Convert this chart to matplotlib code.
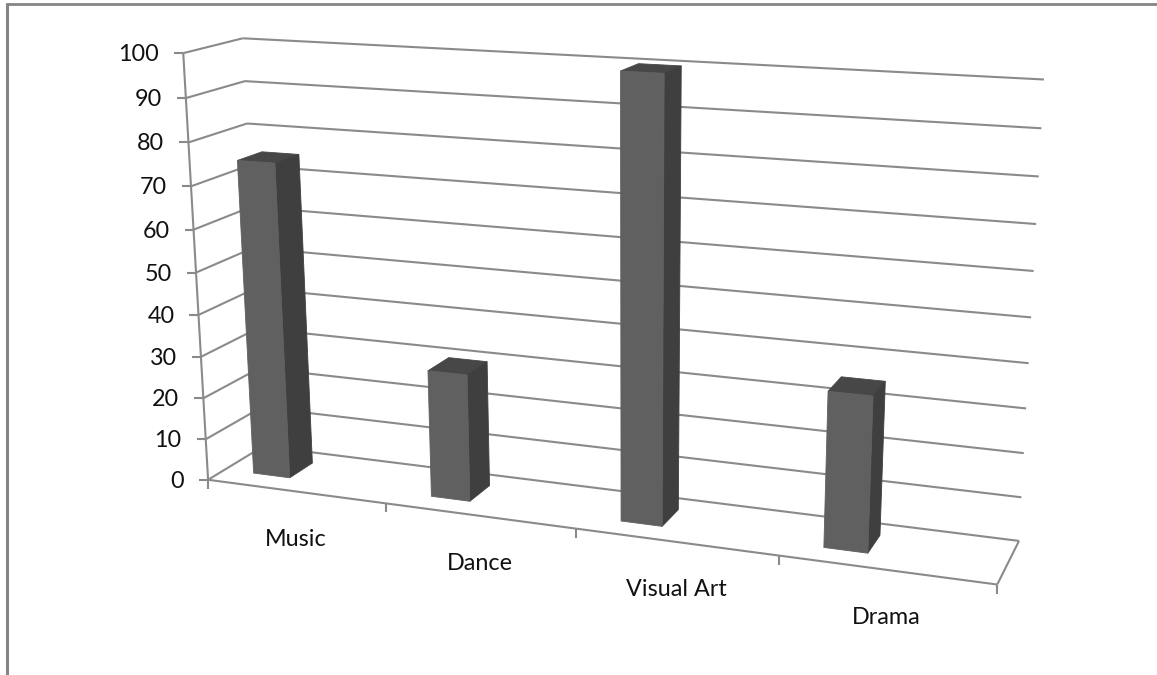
import numpy as np
import matplotlib
matplotlib.use("Agg")
import matplotlib.pyplot as plt
from matplotlib.patches import Polygon

categories = ["Music", "Dance", "Visual Art", "Drama"]
values = [75, 30, 100, 35]
y_ticks = list(range(0, 101, 10))

GRID = "#8a8a8a"
FRONT, SIDE, TOP = "#606060", "#3f3f3f", "#474747"
BAR_SHIFT, BAR_HALF = -0.0575, 0.026
BAR_Z = (0.30, 0.73)

# camera calibration: model (x 0-1, value 0-100, z 0 front-1 back) -> pixels
calib = [((0, 0, 0), (208, 480)), ((0, 100, 0), (184, 53)), ((0, 0, 1), (264, 446)),
         ((0, 100, 1), (242, 38)), ((1, 0, 1), (1019, 541)), ((1, 100, 1), (1044, 80)),
         ((1, 0, 0), (998, 583)), ((.25, 0, 0), (386, 503)), ((.5, 0, 0), (575, 530)),
         ((.75, 0, 0), (779, 556))]
A, b = [], []
for (X, Y, Z), (u, v) in calib:
    Y = Y / 100
    A.append([X, Y, Z, 1, 0, 0, 0, 0, -u * X, -u * Y, -u * Z])
    A.append([0, 0, 0, 0, X, Y, Z, 1, -v * X, -v * Y, -v * Z])
    b += [u, v]
P = np.append(np.linalg.lstsq(np.array(A, float), np.array(b, float), rcond=None)[0], 1).reshape(3, 4)


def proj(x, y, z):
    p = P @ np.array([x, y / 100, z, 1.0])
    return p[0] / p[2], p[1] / p[2]


plt.rcParams["font.family"] = ["Lato", "DejaVu Sans"]
fig = plt.figure(figsize=(11.57, 6.75), dpi=100, facecolor="white")
ax = fig.add_axes([0, 0, 1, 1])
ax.set_xlim(0, 1157)
ax.set_ylim(675, 0)
ax.axis("off")


def seg(a, b, **kw):
    ax.plot([a[0], b[0]], [a[1], b[1]], color=kw.pop("color", GRID), lw=kw.pop("lw", 1.5),
            solid_capstyle="butt", zorder=kw.pop("zorder", 1))


# chart frame
seg((6, 4), (1157, 4), color="#858585", lw=2)
seg((7, 3), (7, 675), color="#858585", lw=2.2)

# walls and grid
for t in y_ticks:
    seg(proj(0, t, 0), proj(0, t, 1))
    seg(proj(0, t, 1), proj(1, t, 1))
    x0, y0 = proj(0, t, 0)
    seg((x0 - 9, y0), (x0, y0))
    ax.text(x0 - 24, y0 + 1.5, str(t), ha="right", va="center", fontsize=16.8, color="#111111")
seg(proj(0, 0, 0), proj(0, 100, 0))
seg(proj(0, 0, 0), proj(1, 0, 0))
seg(proj(1, 0, 0), proj(1, 0, 1))

# category ticks and labels
for i in range(len(categories) + 1):
    x0, y0 = proj(i / 4, 0, 0)
    seg((x0, y0), (x0, y0 + 9))
for i, c in enumerate(categories):
    x0, y0 = proj((i + .5) / 4, 0, 0)
    ax.text(x0, y0 + 48, c, ha="center", va="center", fontsize=16.8, color="#111111")

# bars
for i, val in enumerate(values):
    c = (i + .5) / 4 + BAR_SHIFT
    x0, x1 = c - BAR_HALF, c + BAR_HALF
    z0, z1 = BAR_Z
    faces = [
        (TOP, [(x0, val, z0), (x1, val, z0), (x1, val, z1), (x0, val, z1)]),
        (SIDE, [(x1, 0, z0), (x1, 0, z1), (x1, val, z1), (x1, val, z0)]),
        (FRONT, [(x0, 0, z0), (x1, 0, z0), (x1, val, z0), (x0, val, z0)]),
    ]
    for col, pts in faces:
        ax.add_patch(Polygon([proj(*p) for p in pts], closed=True, facecolor=col,
                             edgecolor=col, lw=0.6, zorder=3))

fig.savefig("out.png", dpi=100)
